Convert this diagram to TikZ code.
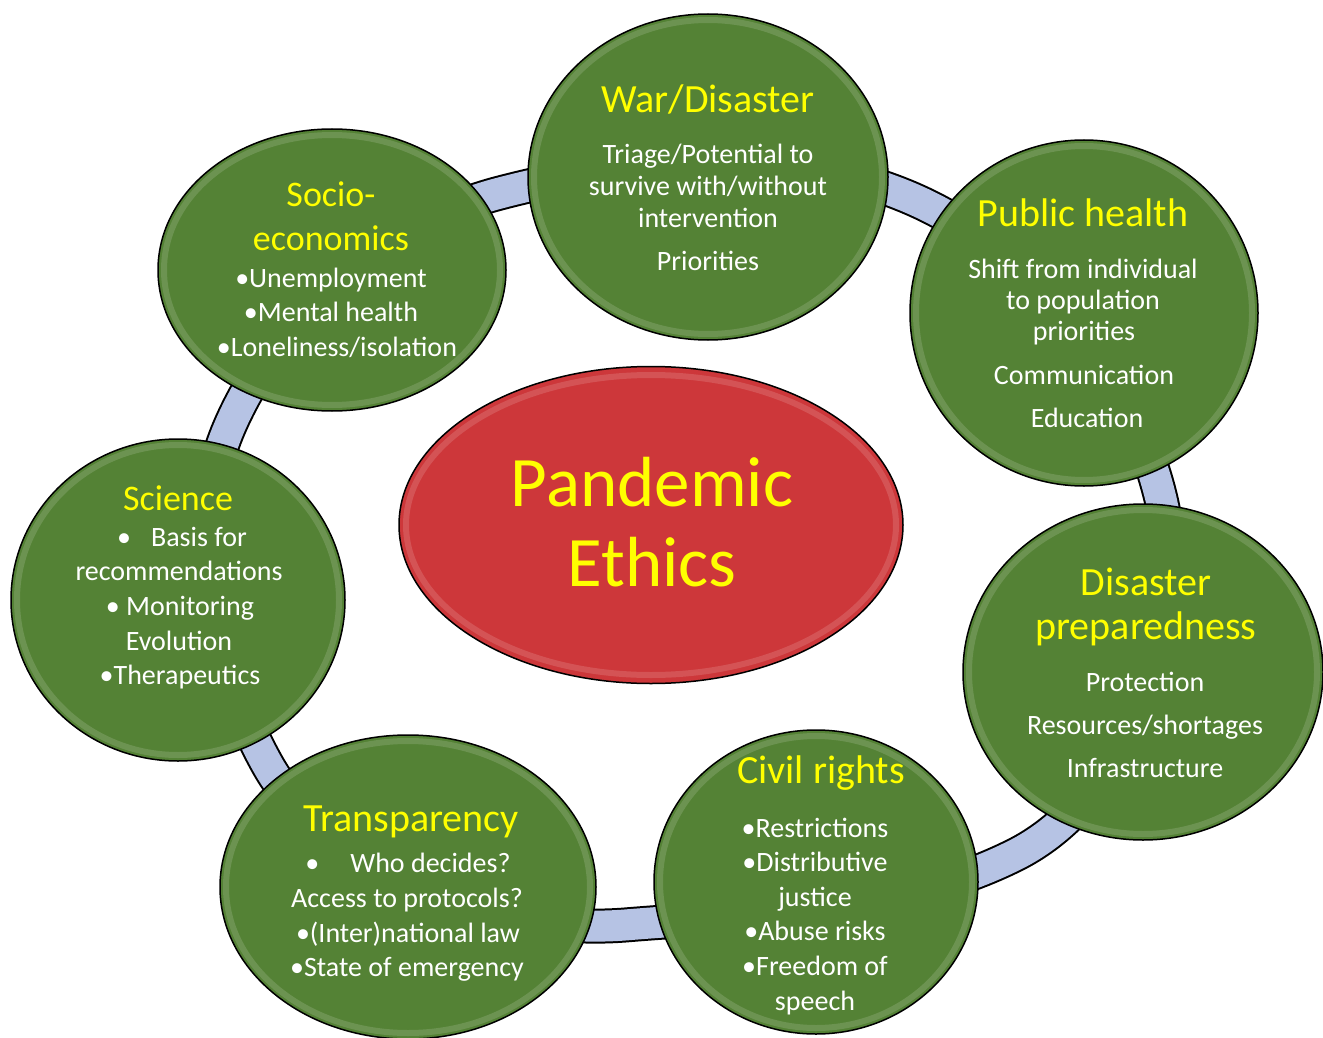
\documentclass[tikz,border=0pt]{standalone}
\usepackage{fontspec}
\setmainfont{Carlito}
\usetikzlibrary{shapes.geometric}
\definecolor{gr}{RGB}{84,130,53}
\definecolor{rd}{RGB}{205,55,58}
\definecolor{ringc}{RGB}{182,195,228}
\definecolor{yl}{RGB}{255,255,0}
\begin{document}
\begin{tikzpicture}[x=1pt,y=-1pt,
  disc/.style={ellipse, draw=black, line width=1.5pt, fill=gr, inner sep=0pt},
  rim/.style={draw=white, opacity=0.14, line width=6pt},
  ttl/.style={anchor=base, text=yl, font=\fontsize{40}{44}\selectfont, inner sep=0pt},
  ttls/.style={anchor=base, text=yl, font=\fontsize{36}{40}\selectfont, inner sep=0pt},
  bdy/.style={anchor=base, text=white, font=\fontsize{28}{32}\selectfont, inner sep=0pt},
  big/.style={anchor=base, text=yl, font=\fontsize{71}{78}\selectfont, inner sep=0pt}]
\fill[white] (0,0) rectangle (1323,1038);
\useasboundingbox (0,0) rectangle (1323,1038);
% ring band
\draw[ringc, line width=31pt, preaction={draw=black, line width=35pt}]
  (500,193) .. controls (634,158) and (789,144) .. (915,200)
  .. controls (1032,252) and (1129,371) .. (1160,495)
  .. controls (1192,621) and (1131,797) .. (1015,855)
  .. controls (897,914) and (757,914) .. (625,925)
  .. controls (494,935) and (329,877) .. (266,762)
  .. controls (212,664) and (185,531) .. (229,428)
  .. controls (276,318) and (384,223) .. cycle;
% centre ellipse
\node[disc, fill=rd, minimum width=504pt, minimum height=317pt] (ctr) at (651,525) {};
\draw[rim] (651,525) ellipse [x radius=245, y radius=150];
% green discs
\foreach \n/\x/\y/\rx/\ry in {war/708/177/180/163, soc/332/270/174/141, pub/1084/313/174/173,
   sci/178/600/167/161, dis/1143/672/180/168, tra/408/887/188/152, civ/816/882/162/152} {
  \node[disc, minimum width=2*\rx, minimum height=2*\ry] (\n) at (\x,\y) {};
  \draw[rim] (\x,\y) ellipse [x radius=\rx-6, y radius=\ry-6];
}
% centre text
\node[big] (c1) at (652,506) {Pandemic};
\node[big] (c2) at (652,586) {Ethics};
% War/Disaster
\node[ttl] (wt) at (708,113) {War/Disaster};
\node[bdy] (w1) at (708,164) {Triage/Potential to};
\node[bdy] (w2) at (708,196) {survive with/without};
\node[bdy] (w3) at (708,227) {intervention};
\node[bdy] (w4) at (708,270) {Priorities};
% Socio-economics
\node[ttls] (st1) at (331,207) {Socio-};
\node[ttls] (st2) at (331,250) {economics};
\node[bdy] (s1) at (331,287) {•Unemployment};
\node[bdy] (s2) at (331,321) {•Mental health};
\node[bdy] (s3) at (337,356) {•Loneliness/isolation};
% Public health
\node[ttl] (pt) at (1083,226) {Public health};
\node[bdy] (p1) at (1083,278) {Shift from individual};
\node[bdy] (p2) at (1083,309) {to population};
\node[bdy] (p3) at (1084,340) {priorities};
\node[bdy] (p4) at (1084,384) {Communication};
\node[bdy] (p5) at (1087,427) {Education};
% Science
\node[ttls] (sct) at (178,510) {Science};
\node[bdy] (sc1) at (182,546) {•\hspace{20pt}Basis for};
\node[bdy] (sc2) at (179,580) {recommendations};
\node[bdy] (sc3) at (180,615) {• Monitoring};
\node[bdy] (sc4) at (179,650) {Evolution};
\node[bdy] (sc5) at (180,684) {•Therapeutics};
% Disaster preparedness
\node[ttl] (dt1) at (1146,595) {Disaster};
\node[ttl] (dt2) at (1146,639) {preparedness};
\node[bdy] (d1) at (1145,691) {Protection};
\node[bdy] (d2) at (1145,734) {Resources/shortages};
\node[bdy] (d3) at (1145,777) {Infrastructure};
% Transparency
\node[ttl] (tt) at (411,831) {Transparency};
\node[bdy] (t1) at (408,872) {•\hspace{31pt}Who decides?};
\node[bdy] (t2) at (407,907) {Access to protocols?};
\node[bdy] (t3) at (408,942) {•(Inter)national law};
\node[bdy] (t4) at (407,976) {•State of emergency};
% Civil rights
\node[ttl] (ct) at (821,783) {Civil rights};
\node[bdy] (cr1) at (815,837) {•Restrictions};
\node[bdy] (cr2) at (815,871) {•Distributive};
\node[bdy] (cr3) at (815,906) {justice};
\node[bdy] (cr4) at (815,940) {•Abuse risks};
\node[bdy] (cr5) at (815,975) {•Freedom of};
\node[bdy] (cr6) at (815,1010) {speech};
\end{tikzpicture}
\end{document}
